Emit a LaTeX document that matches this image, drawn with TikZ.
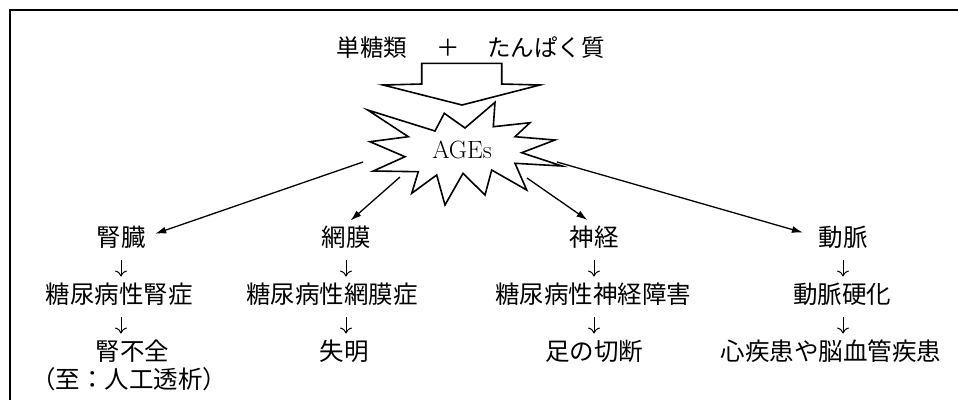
\documentclass[tikz,border=0pt]{standalone}
\usepackage{fontspec}
\newfontfamily\jp{Noto Sans CJK JP}
\usetikzlibrary{arrows.meta}
\begin{document}
\begin{tikzpicture}[x=1pt,y=-1pt,
  jt/.style={font=\jp\fontsize{24.5}{24.5}\selectfont, inner sep=0pt, text height=21.56pt, text depth=2.94pt},
  jtop/.style={font=\jp\fontsize{23.5}{23.5}\selectfont, inner sep=0pt},
  dn/.style={-{To[length=6pt,width=12pt]}, line width=1pt, shorten <=11pt, shorten >=5pt},
  da/.style={-{Latex[length=11pt,width=7pt]}, line width=1.3pt},
  outl/.style={draw, fill=white, line width=1.6pt, line join=miter}]

\useasboundingbox (0,0) rectangle (958,400);
\fill[white] (0,0) rectangle (958,400);
\coordinate (fl) at (9.5,400);
\coordinate (fc) at (9.5,9.5);
\coordinate (fr) at (958,9.5);
\draw[line width=2pt] (fl) -- (fc) -- (fr);

% top texts
\node[jtop] (mono) at (372,48) {単糖類};
\node[jtop] (plus) at (448,48) {＋};
\node[jtop] (prot) at (546,48) {たんぱく質};

% block arrow
\draw[outl] (421.7,63.3) -- (501.7,63.3) -- (501.7,84) -- (540,85) -- (462,105)
  -- (383,85) -- (421.7,84) -- cycle;

% target nodes
\node[jt] (jinzo) at (121,237) {腎臓};
\node[jt] (moumaku) at (346,237) {網膜};
\node[jt] (shinkei) at (594,237) {神経};
\node[jt] (doumyaku) at (843,237) {動脈};

\node[jt] (ckd) at (119,294) {糖尿病性腎症};
\node[jt] (ret) at (332,294) {糖尿病性網膜症};
\node[jt] (neu) at (593,294) {糖尿病性神経障害};
\node[jt] (ath) at (842,294) {動脈硬化};

\node[jt] (kf) at (132.5,351) {腎不全};
\node[jt] (blind) at (344,351) {失明};
\node[jt] (amp) at (594,351) {足の切断};
\node[jt] (cvd) at (831,351) {心疾患や脳血管疾患};

\node[jt] (dial) at (129,379) {（至：人工透析）};

% vertical arrows
\draw[dn] (jinzo.south) -- (jinzo.south |- ckd.north);
\draw[dn] (ckd.south -| jinzo.south) -- (jinzo.south |- kf.north);
\draw[dn] (moumaku.south) -- (moumaku.south |- ret.north);
\draw[dn] (ret.south -| moumaku.south) -- (moumaku.south |- blind.north);
\draw[dn] (shinkei.south) -- (shinkei.south |- neu.north);
\draw[dn] (neu.south -| shinkei.south) -- (shinkei.south |- amp.north);
\draw[dn] (doumyaku.south) -- (doumyaku.south |- ath.north);
\draw[dn] (ath.south -| doumyaku.south) -- (doumyaku.south |- cvd.north);

% diagonal arrows from the burst
\coordinate (s1) at (363,162);
\coordinate (s2) at (400,177);
\coordinate (s3) at (527,178);
\coordinate (s4) at (557,162);
\draw[da, shorten >=10pt] (s1) -- (jinzo.east);
\draw[da, shorten >=6pt] (s2) -- (moumaku.north);
\draw[da, shorten >=8pt] (s3) -- (shinkei.north);
\draw[da, shorten >=16pt] (s4) -- (doumyaku.west);

% burst
\draw[outl] (367.7,110) -- (435,131) -- (444.3,113.3) -- (465,128) -- (495,102.3)
  -- (493.3,126.7) -- (530,122.7) -- (515,136.7) -- (555,140) -- (521.7,152.7)
  -- (562,166) -- (515,163.3) -- (526.7,190) -- (491.7,170) -- (485,195)
  -- (463,173.3) -- (445,205) -- (436.7,175) -- (411.7,193.3) -- (418.3,171.7)
  -- (373.3,171) -- (405,156.7) -- (370,141.7) -- (408.3,136.7) -- cycle;
\node[font=\fontsize{25}{25}\selectfont, inner sep=0pt] (ages) at (462,150) {AGEs};

\end{tikzpicture}
\end{document}
